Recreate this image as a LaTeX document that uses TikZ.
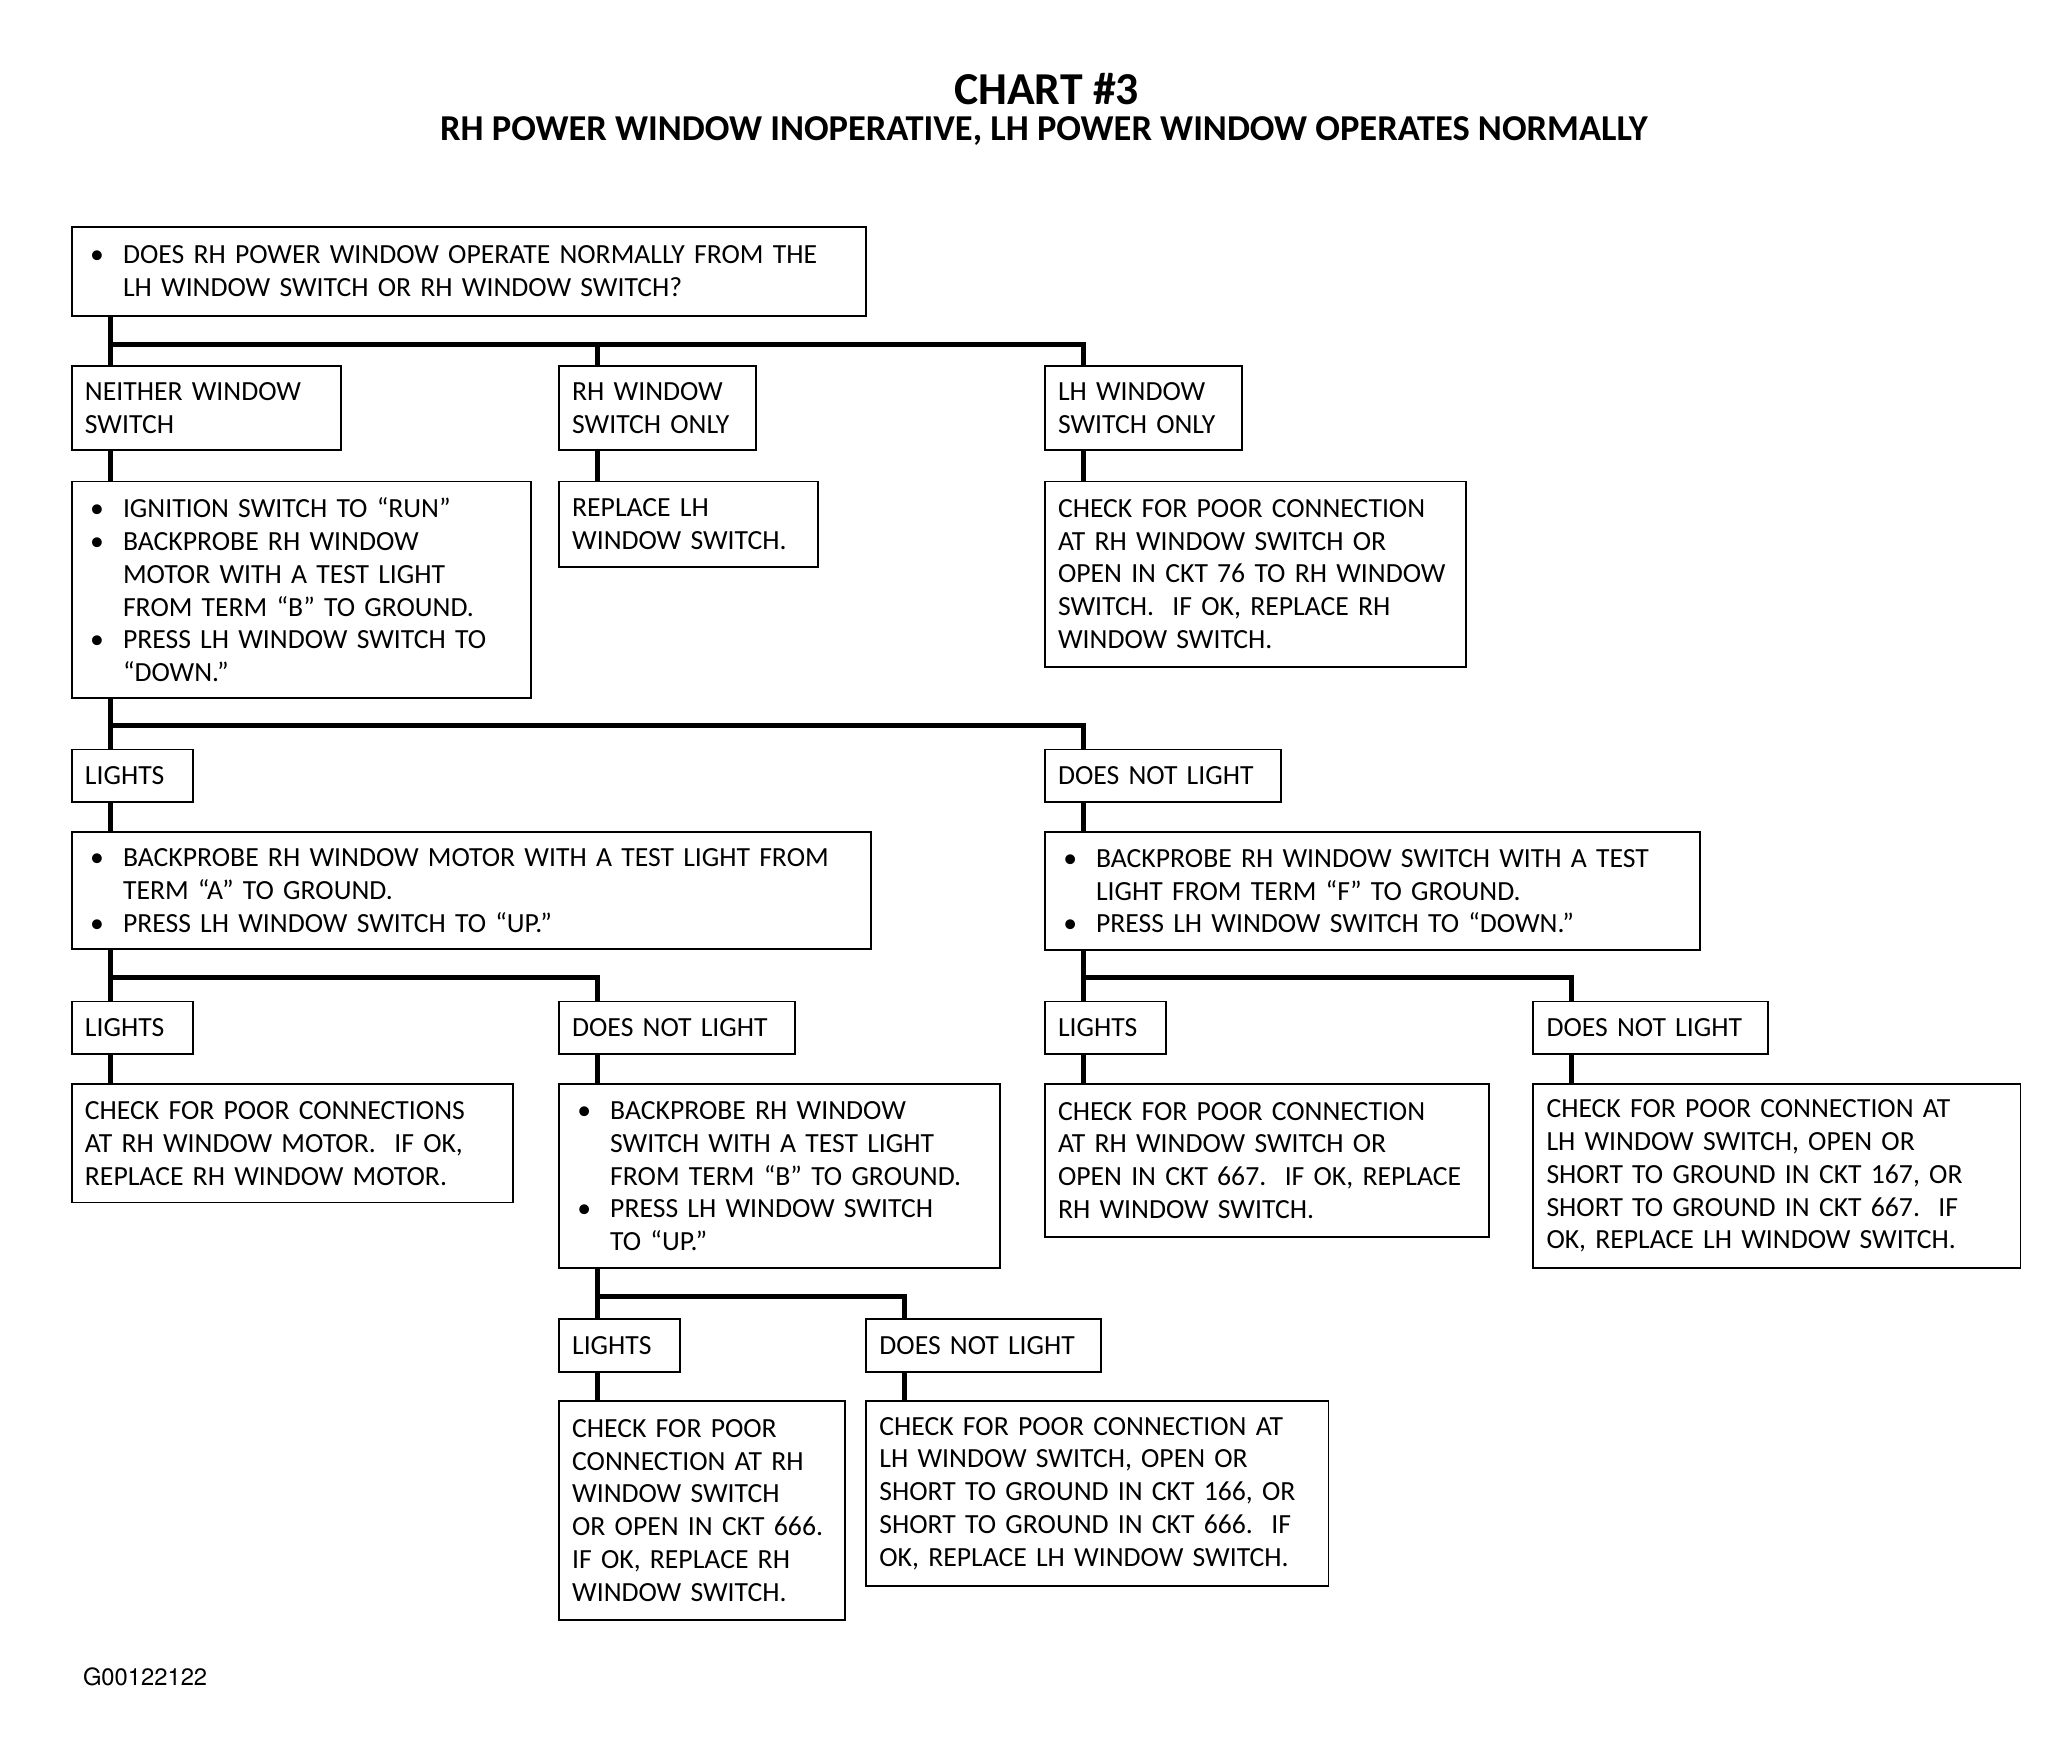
\documentclass[tikz,border=0pt]{standalone}
\usepackage{fontspec}
\setmainfont{Carlito}
\newfontfamily\codefont{TeX Gyre Heros}
\usepackage{tikz}

\newcommand\bul{\makebox[0.58cm][l]{\hspace{0.08cm}\textbullet}}
\newcommand\indt{\hspace*{0.58cm}}

\begin{document}
\begin{tikzpicture}[x=0.02cm,y=-0.02cm,
  box/.style 2 args={draw,line width=0.8pt,anchor=north west,align=left,
    inner xsep=0.2cm,inner ysep=0pt,text width=#1cm,minimum height=#2cm,
    font=\fontsize{12}{14.2}\selectfont},
  link/.style={line width=2.3pt}]
\useasboundingbox (0,0) rectangle (1568,1340);

\node[font=\fontsize{19.8}{22}\selectfont\bfseries] (title) at (797,68) {CHART \#3};
\node[font=\fontsize{15.8}{18}\selectfont\bfseries] (sub) at (795,100)
  {RH POWER WINDOW INOPERATIVE, LH POWER WINDOW OPERATES NORMALLY};

\node[box={11.70}{1.36}] (q1) at (54,172)
  {\bul DOES RH POWER WINDOW OPERATE NORMALLY FROM THE\\ \indt LH WINDOW SWITCH OR RH WINDOW SWITCH?};

\node[box={3.70}{1.28}] (nb) at (54,278) {NEITHER WINDOW\\ SWITCH};
\node[box={2.60}{1.28}] (rh) at (425,278) {RH WINDOW\\ SWITCH ONLY};
\node[box={2.60}{1.28}] (lh) at (795,278) {LH WINDOW\\ SWITCH ONLY};

\node[box={6.60}{3.30}] (ig) at (54,366)
  {\bul IGNITION SWITCH TO ``RUN''\\ \bul BACKPROBE RH WINDOW\\ \indt MOTOR WITH A TEST LIGHT\\
   \indt FROM TERM ``B'' TO GROUND.\\ \bul PRESS LH WINDOW SWITCH TO\\ \indt ``DOWN.''};
\node[box={3.54}{1.30}] (rl) at (425,366) {REPLACE LH\\ WINDOW SWITCH.};
\node[box={6.02}{2.82}] (ck1) at (795,366)
  {CHECK FOR POOR CONNECTION\\ AT RH WINDOW SWITCH OR\\ OPEN IN CKT 76 TO RH WINDOW\\
   SWITCH.\ \ IF OK, REPLACE RH\\ WINDOW SWITCH.};

\node[box={1.44}{0.80}] (l1) at (54,570) {LIGHTS};
\node[box={3.20}{0.80}] (n1) at (795,570) {DOES NOT LIGHT};

\node[box={11.78}{1.78}] (bm) at (54,633)
  {\bul BACKPROBE RH WINDOW MOTOR WITH A TEST LIGHT FROM\\ \indt TERM ``A'' TO GROUND.\\
   \bul PRESS LH WINDOW SWITCH TO ``UP.''};
\node[box={9.58}{1.80}] (bs) at (795,633)
  {\bul BACKPROBE RH WINDOW SWITCH WITH A TEST\\ \indt LIGHT FROM TERM ``F'' TO GROUND.\\
   \bul PRESS LH WINDOW SWITCH TO ``DOWN.''};

\node[box={1.44}{0.80}] (l2) at (54,762) {LIGHTS};
\node[box={3.20}{0.80}] (n2) at (425,762) {DOES NOT LIGHT};
\node[box={1.44}{0.80}] (l3) at (795,762) {LIGHTS};
\node[box={3.18}{0.80}] (n3) at (1167,762) {DOES NOT LIGHT};

\node[box={6.32}{1.80}] (ck2) at (54,825)
  {CHECK FOR POOR CONNECTIONS\\ AT RH WINDOW MOTOR.\ \ IF OK,\\ REPLACE RH WINDOW MOTOR.};
\node[box={6.32}{2.80}] (bs2) at (425,825)
  {\bul BACKPROBE RH WINDOW\\ \indt SWITCH WITH A TEST LIGHT\\ \indt FROM TERM ``B'' TO GROUND.\\
   \bul PRESS LH WINDOW SWITCH\\ \indt TO ``UP.''};
\node[box={6.36}{2.32}] (ck3) at (795,825)
  {CHECK FOR POOR CONNECTION\\ AT RH WINDOW SWITCH OR\\ OPEN IN CKT 667.\ \ IF OK, REPLACE\\ RH WINDOW SWITCH.};
\node[box={7.02}{2.80}] (ck4) at (1167,825)
  {CHECK FOR POOR CONNECTION AT\\ LH WINDOW SWITCH, OPEN OR\\ SHORT TO GROUND IN CKT 167, OR\\
   SHORT TO GROUND IN CKT 667.\ \ IF\\ OK, REPLACE LH WINDOW SWITCH.};

\node[box={1.44}{0.80}] (l4) at (425,1004) {LIGHTS};
\node[box={3.18}{0.80}] (n4) at (659,1004) {DOES NOT LIGHT};

\node[box={3.96}{3.34}] (ck5) at (425,1066)
  {CHECK FOR POOR\\ CONNECTION AT RH\\ WINDOW SWITCH\\ OR OPEN IN CKT 666.\\ IF OK, REPLACE RH\\ WINDOW SWITCH.};
\node[box={6.64}{2.82}] (ck6) at (659,1066)
  {CHECK FOR POOR CONNECTION AT\\ LH WINDOW SWITCH, OPEN OR\\ SHORT TO GROUND IN CKT 166, OR\\
   SHORT TO GROUND IN CKT 666.\ \ IF\\ OK, REPLACE LH WINDOW SWITCH.};

\node[anchor=west,font=\codefont\fontsize{10.3}{12}\selectfont] (code) at (57,1277) {G00122122};

% bus junctions
\coordinate (j1) at ([xshift=0.6cm,yshift=-0.42cm]q1.south west);
\coordinate (j2) at ([xshift=0.6cm,yshift=-0.4cm]ig.south west);
\coordinate (j3) at ([xshift=0.6cm,yshift=-0.42cm]bm.south west);
\coordinate (j4) at ([xshift=0.6cm,yshift=-0.4cm]bs.south west);
\coordinate (j5) at ([xshift=0.6cm,yshift=-0.42cm]bs2.south west);

\draw[link] ([xshift=0.6cm]q1.south west) -- ([xshift=0.6cm]nb.north west);
\draw[link] ([xshift=0.6cm]rh.north west) |- (j1);
\draw[link] ([xshift=0.6cm]lh.north west) |- (j1);
\draw[link] ([xshift=0.6cm]nb.south west) -- ([xshift=0.6cm]ig.north west);
\draw[link] ([xshift=0.6cm]rh.south west) -- ([xshift=0.6cm]rl.north west);
\draw[link] ([xshift=0.6cm]lh.south west) -- ([xshift=0.6cm]ck1.north west);

\draw[link] ([xshift=0.6cm]ig.south west) -- ([xshift=0.6cm]l1.north west);
\draw[link] ([xshift=0.6cm]n1.north west) |- (j2);
\draw[link] ([xshift=0.6cm]l1.south west) -- ([xshift=0.6cm]bm.north west);
\draw[link] ([xshift=0.6cm]n1.south west) -- ([xshift=0.6cm]bs.north west);

\draw[link] ([xshift=0.6cm]bm.south west) -- ([xshift=0.6cm]l2.north west);
\draw[link] ([xshift=0.6cm]n2.north west) |- (j3);
\draw[link] ([xshift=0.6cm]bs.south west) -- ([xshift=0.6cm]l3.north west);
\draw[link] ([xshift=0.6cm]n3.north west) |- (j4);

\draw[link] ([xshift=0.6cm]l2.south west) -- ([xshift=0.6cm]ck2.north west);
\draw[link] ([xshift=0.6cm]n2.south west) -- ([xshift=0.6cm]bs2.north west);
\draw[link] ([xshift=0.6cm]l3.south west) -- ([xshift=0.6cm]ck3.north west);
\draw[link] ([xshift=0.6cm]n3.south west) -- ([xshift=0.6cm]ck4.north west);

\draw[link] ([xshift=0.6cm]bs2.south west) -- ([xshift=0.6cm]l4.north west);
\draw[link] ([xshift=0.6cm]n4.north west) |- (j5);
\draw[link] ([xshift=0.6cm]l4.south west) -- ([xshift=0.6cm]ck5.north west);
\draw[link] ([xshift=0.6cm]n4.south west) -- ([xshift=0.6cm]ck6.north west);
\end{tikzpicture}
\end{document}
